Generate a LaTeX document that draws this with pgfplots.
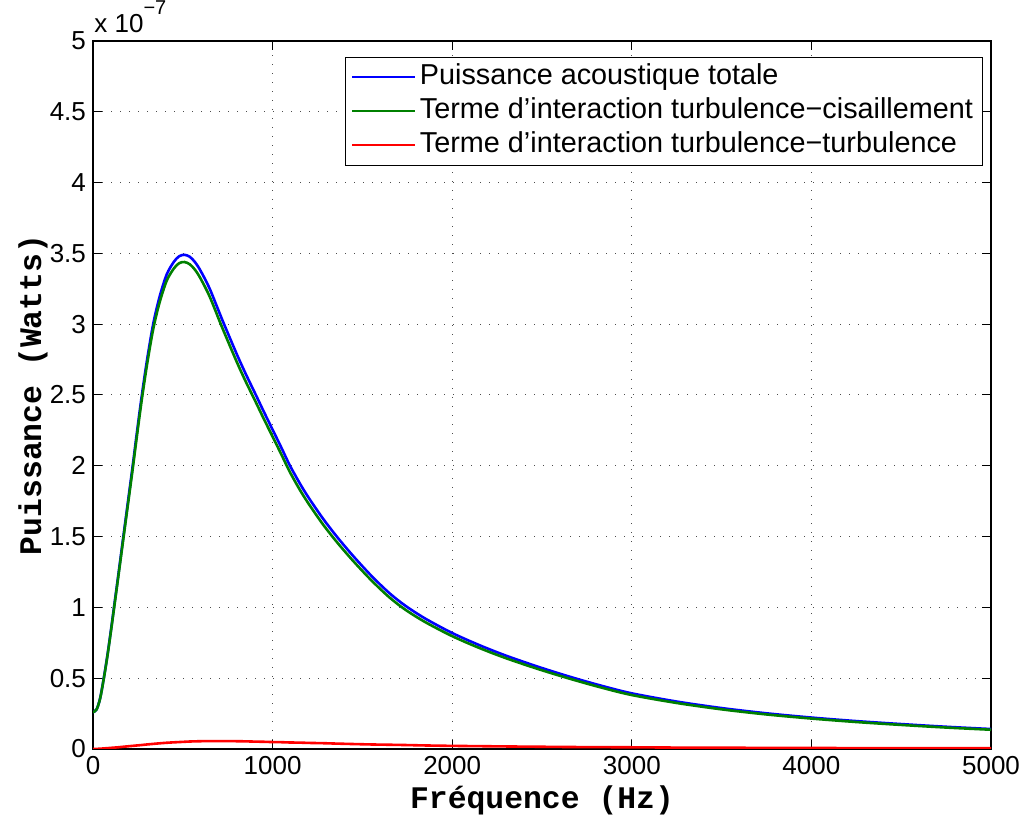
\documentclass[border=0pt]{standalone}
\usepackage{fontspec}
\setmainfont{Liberation Sans}
\newfontfamily\cour{Liberation Mono}
\usepackage{pgfplots}
\pgfplotsset{compat=1.18}
\usepackage{pgfplotstable}

\pgfplotstableread{
x blue green red
0 0.26 0.26 0
20 0.28 0.279 0.001
40 0.36 0.358 0.002
60 0.50 0.496 0.004
80 0.66 0.654 0.006
100 0.84 0.832 0.008
120 1.03 1.02 0.010
140 1.22 1.208 0.012
170 1.51 1.494 0.016
195 1.75 1.731 0.019
220 1.99 1.968 0.022
245 2.24 2.215 0.025
270 2.48 2.452 0.028
300 2.74 2.708 0.032
335 3.00 2.964 0.036
370 3.19 3.15 0.040
410 3.35 3.306 0.044
450 3.44 3.393 0.047
480 3.48 3.431 0.049
510 3.49 3.439 0.051
540 3.475 3.422 0.053
570 3.435 3.381 0.054
600 3.375 3.32 0.055
650 3.25 3.194 0.056
720 3.03 2.974 0.056
800 2.79 2.735 0.055
850 2.65 2.596 0.054
905 2.505 2.453 0.052
950 2.385 2.334 0.051
1000 2.255 2.206 0.049
1050 2.125 2.077 0.048
1095 2.005 1.959 0.046
1150 1.879 1.834 0.045
1200 1.776 1.733 0.043
1280 1.628 1.587 0.041
1360 1.496 1.458 0.038
1450 1.361 1.326 0.035
1550 1.223 1.191 0.032
1650 1.101 1.071 0.030
1740 1.011 0.983 0.028
1850 0.921 0.896 0.025
2000 0.819 0.797 0.022
2150 0.734 0.714 0.020
2300 0.659 0.641 0.018
2480 0.580 0.564 0.016
2658 0.509 0.495 0.014
2830 0.447 0.434 0.013
3000 0.393 0.381 0.012
3250 0.335 0.325 0.010
3500 0.289 0.280 0.009
3750 0.252 0.244 0.008
4000 0.222 0.215 0.007
4250 0.197 0.1905 0.0065
4500 0.176 0.170 0.006
4750 0.157 0.1515 0.0055
5000 0.141 0.136 0.005
}\datatable

\definecolor{mblue}{rgb}{0,0,1}
\definecolor{mgreen}{rgb}{0,0.5,0}
\definecolor{mred}{rgb}{1,0,0}

\begin{document}
\begin{tikzpicture}
\begin{axis}[
  scale only axis,
  width=449pt, height=354pt,
  xmin=0, xmax=5000, ymin=0, ymax=5,
  xtick={0,1000,...,5000},
  ytick={0,0.5,...,5},
  scaled ticks=false,
  /pgf/number format/1000 sep={},
  /pgf/number format/assume math mode=true,
  ticklabel style={font=\fontsize{13}{15}\selectfont},
  tick align=inside,
  major tick length=4.5pt,
  tick style={black, line width=0.5pt},
  axis line style={line width=0.6pt},
  grid=major,
  major grid style={black!70, line width=0.5pt, dash pattern=on 0.5pt off 4pt},
  every axis x label/.style={at={(axis description cs:0.5,-0.072)}, anchor=center},
  every axis y label/.style={at={(axis description cs:-0.0668,0.5)}, rotate=90, anchor=center},
  xlabel={\cour\bfseries\fontsize{15.7}{18}\selectfont Fréquence (Hz)},
  ylabel={\cour\bfseries\fontsize{15.7}{18}\selectfont Puissance (Watts)},
  legend cell align=left,
  legend style={at={(rel axis cs:0.9911,0.9774)}, anchor=north east,
    draw=black, line width=0.5pt, fill=white,
    font=\fontsize{14.4}{16}\selectfont,
    inner xsep=3pt, inner ysep=1.5pt,
    nodes={inner sep=1.75pt, text height=10.5pt, text depth=3pt}},
  legend image code/.code={\draw[#1, line width=1pt] (0pt,0pt) -- (31.5pt,0pt);},
]
\addplot[mblue, line width=1.3pt, smooth] table[x=x, y=blue] {\datatable};
\addlegendentry{Puissance acoustique totale}
\addplot[mgreen, line width=1.3pt, smooth] table[x=x, y=green] {\datatable};
\addlegendentry{Terme d’interaction turbulence−cisaillement}
\addplot[mred, line width=1.3pt, smooth] table[x=x, y=red] {\datatable};
\addlegendentry{Terme d’interaction turbulence−turbulence}
\coordinate (bl) at (rel axis cs:0,0);
\coordinate (tr) at (rel axis cs:1,1);
\coordinate (tl) at (rel axis cs:0,1);
\end{axis}
\node[anchor=base west, inner sep=0pt, font=\fontsize{13}{15}\selectfont] at ([xshift=0.5pt,yshift=4pt]tl) {x 10\raisebox{9pt}{\fontsize{10}{10}\selectfont −7}};
\pgfresetboundingbox
\path[use as bounding box] ([xshift=-46.5pt,yshift=-36pt]bl) rectangle ([xshift=16.5pt,yshift=20.5pt]tr);
\end{tikzpicture}
\end{document}
